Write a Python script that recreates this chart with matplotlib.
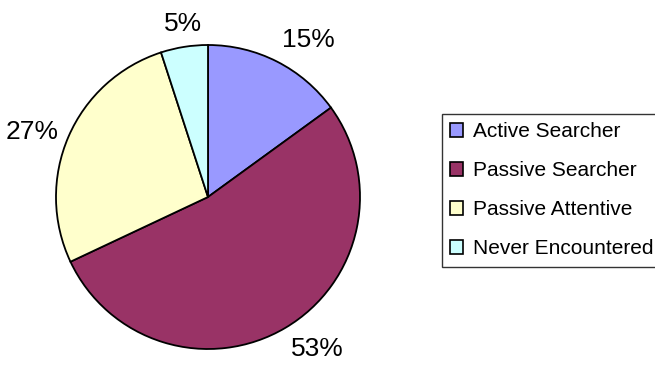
import numpy as np
import matplotlib.pyplot as plt

plt.rcParams['font.family'] = ['Liberation Sans', 'DejaVu Sans']

labels = ['Active Searcher', 'Passive Searcher', 'Passive Attentive', 'Never Encountered']
shares = [15, 53, 27, 5]
colors = ['#9999FF', '#993366', '#FFFFCC', '#CCFFFF']

W, H = 655, 371
fig = plt.figure(figsize=(W / 100, H / 100), dpi=100)

# pie centred at (208, 197) px with a 152 px radius
cx, cy, r = 208, 197, 152
ax = fig.add_axes([(cx - r) / W, (H - cy - r) / H, 2 * r / W, 2 * r / H])

wedges, _ = ax.pie(
    shares, colors=colors, startangle=90, counterclock=False,
    wedgeprops=dict(edgecolor='black', linewidth=1.3),
)
ax.set_xlim(-1, 1)
ax.set_ylim(-1, 1)
ax.set_aspect('equal')
ax.axis('off')

# percentage labels sit just outside the rim, aligned away from the pie
total = sum(shares)
for w, v in zip(wedges, shares):
    ang = np.deg2rad((w.theta1 + w.theta2) / 2)
    c, s = np.cos(ang), np.sin(ang)
    ha = 'center' if abs(c) < 0.3 else ('left' if c > 0 else 'right')
    va = 'bottom' if s > 0.5 else ('top' if s < -0.5 else 'center')
    ax.text(1.07 * c, 1.07 * s, f'{100 * v / total:.0f}%', ha=ha, va=va,
            fontsize=19, color='black', clip_on=False)

leg = fig.legend(
    wedges, labels, loc='upper left',
    bbox_to_anchor=(442 / W, 1 - 114 / H),
    fontsize=15, frameon=True, fancybox=False, shadow=False,
    handlelength=0.62, handleheight=0.62, handletextpad=0.45,
    labelspacing=0.96, borderpad=0.4, borderaxespad=0,
)
leg.get_frame().set_edgecolor('black')
leg.get_frame().set_linewidth(1.0)
for h in leg.legend_handles:
    h.set_edgecolor('black')
    h.set_linewidth(1.2)

fig.savefig('out.png', dpi=100)
